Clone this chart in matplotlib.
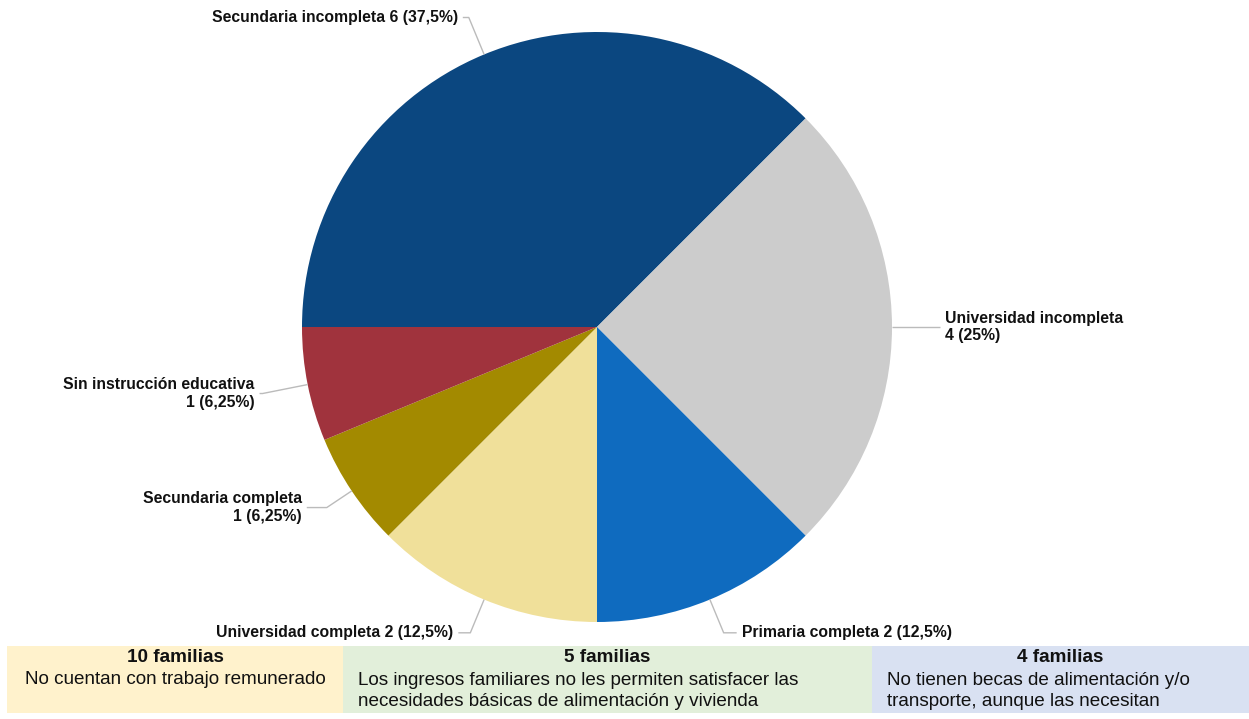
import numpy as np
import matplotlib
matplotlib.use("Agg")
import matplotlib.pyplot as plt
from matplotlib.patches import Rectangle

plt.rcParams['font.family'] = ['Liberation Sans', 'DejaVu Sans']

# datos del gráfico
categorias = ["Secundaria incompleta", "Universidad incompleta", "Primaria completa",
              "Universidad completa", "Secundaria completa", "Sin instrucción educativa"]
familias = [6, 4, 2, 2, 1, 1]
colores = ["#0B4780", "#CCCCCC", "#0F6BBF", "#F0E09A", "#A38A00", "#A0333D"]

cajas_titulo = ["10 familias", "5 familias", "4 familias"]
cajas_texto = ["No cuentan con trabajo remunerado",
               "Los ingresos familiares no les permiten satisfacer las\nnecesidades básicas de alimentación y vivienda",
               "No tienen becas de alimentación y/o\ntransporte, aunque las necesitan"]
cajas_color = ["#FFF2CC", "#E2EFDA", "#D9E1F2"]

# layout (pixeles)
W, H = 1249, 719
cx, cy, R = 597, H - 327, 295
# extensión radial del conector, largo del tramo horizontal, etiqueta en dos líneas
conector = [(40, 6, False), (0, 48, True), (36, 13, False), (36, 12, False), (30, 20, True), (46, 3, True)]
cajas_x = [7, 343, 872, 1249]
caja_y0, caja_y1 = H - 713, H - 646

fig = plt.figure(figsize=(W / 100, H / 100), dpi=100)
ax = fig.add_axes([0, 0, 1, 1])

wedges, _ = ax.pie(familias, colors=colores, startangle=180, counterclock=False,
                   center=(cx, cy), radius=R, frame=True,
                   wedgeprops=dict(linewidth=0))
ax.set_xlim(0, W)
ax.set_ylim(0, H)
ax.axis('off')

total = sum(familias)
for w, nom, n, (d, hl, dos) in zip(wedges, categorias, familias, conector):
    ang = np.deg2rad((w.theta1 + w.theta2) / 2)
    ca, sa = np.cos(ang), np.sin(ang)
    x0, y0 = cx + R * ca, cy + R * sa
    x1, y1 = cx + (R + d) * ca, cy + (R + d) * sa
    lado = 1 if ca >= 0 else -1
    x2 = x1 + lado * hl
    ax.plot([x0, x1, x2], [y0, y1, y1], color="#BBBBBB", lw=1, solid_capstyle='butt')
    pct = f"{100 * n / total:g}".replace('.', ',')
    txt = f"{nom}\n{n} ({pct}%)" if dos else f"{nom} {n} ({pct}%)"
    ax.text(x2 + lado * 5, y1, txt, ha='left' if lado > 0 else 'right',
            multialignment='left' if lado > 0 else 'right',
            va='center', fontsize=11.3, fontweight='bold', color="#111111", linespacing=1.2)

for i, (tit, cuerpo, col) in enumerate(zip(cajas_titulo, cajas_texto, cajas_color)):
    xa, xb = cajas_x[i], cajas_x[i + 1]
    ax.add_patch(Rectangle((xa, caja_y0), xb - xa, caja_y1 - caja_y0, facecolor=col, edgecolor='none'))
    xm = (xa + xb) / 2
    ax.text(xm, H - 658, tit, ha='center', va='center', fontsize=13.6, fontweight='bold', color="#111111")
    if i == 0:
        ax.text(xm, H - 680, cuerpo, ha='center', va='center', fontsize=13.6, color="#111111")
    else:
        ax.text(xa + 15, H - 691, cuerpo, ha='left', va='center', fontsize=13.6, color="#111111",
                linespacing=1.25)

fig.savefig("out.png", dpi=100)
